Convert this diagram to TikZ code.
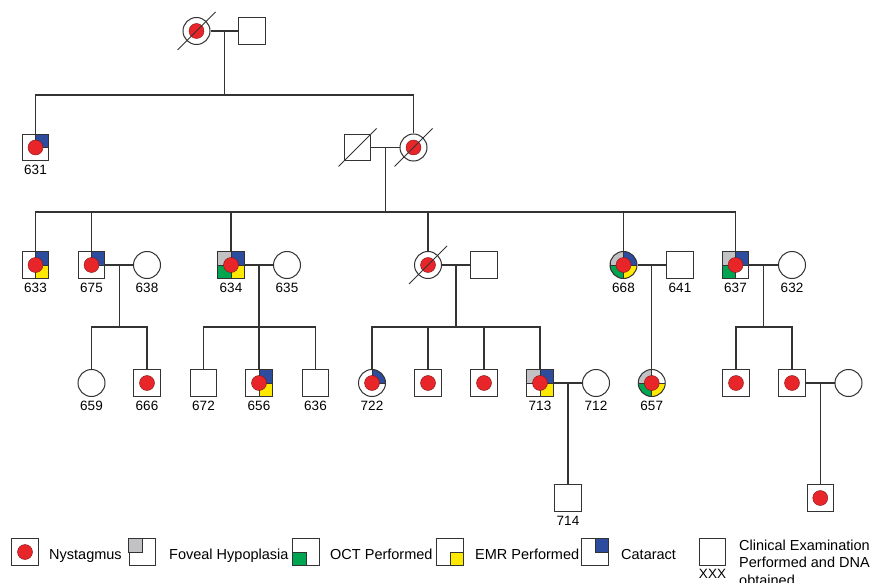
\documentclass[tikz,border=0pt]{standalone}
\usepackage{fontspec}
\setmainfont{Liberation Sans}
\usetikzlibrary{positioning, calc}

\definecolor{ln}{HTML}{333333}
\definecolor{nyst}{HTML}{E8262A}
\definecolor{cat}{HTML}{2D4C9E}
\definecolor{emr}{HTML}{FFE900}
\definecolor{oct}{HTML}{00A551}
\definecolor{fov}{HTML}{C2C2C4}

\begin{document}
\begin{tikzpicture}[x=1pt, y=-1pt, font=\fontsize{13.5}{16}\selectfont,
    male/.style={draw=ln, line width=1pt, fill=white, minimum size=26.5pt, inner sep=0pt},
    female/.style={circle, draw=ln, line width=1pt, fill=white, minimum size=27pt, inner sep=0pt},
    nystdot/.style={fill=nyst, draw=nyst!55!black, line width=0.4pt},
    aff/.style={path picture={\filldraw[nystdot] (path picture bounding box.center) circle[radius=7.5];}},
    quads/.style={path picture={
        \foreach \qc/\qk in {#1}
          \filldraw[fill=\qc, draw=ln, line width=0.7pt] (path picture bounding box.center) rectangle (path picture bounding box.\qk);
        \filldraw[nystdot] (path picture bounding box.center) circle[radius=7.5];}},
    lab/.style={inner sep=2pt},
    rel/.style={draw=ln, line width=1.25pt},
    deadline/.style={draw=ln, line width=0.9pt},
    legtxt/.style={anchor=base west, inner sep=0pt, font=\fontsize{14.5}{17}\selectfont}]

    \useasboundingbox (0,0) rectangle (871,583);

    % generation I
    \node[female, aff] (i1) at (196.5,31) {};
    \node[male] (i2) at (252,31) {};
    \draw[deadline] ($(i1)+(-19,19)$) -- ($(i1)+(19,-19)$);
    \draw[rel] (i1) -- (i2);
    \coordinate (m1) at ($(i1)!0.5!(i2)$);
    \coordinate (s1) at ($(m1)+(0,64)$);

    % generation II
    \node[male, quads={cat/north east}] (p631) at (35.5,147.5) {};
    \node[male] (ii2) at (357.5,147.5) {};
    \node[female, aff] (ii3) at (413.5,147.5) {};
    \draw[deadline] ($(ii2)+(-19,19)$) -- ($(ii2)+(19,-19)$);
    \draw[deadline] ($(ii3)+(-19,19)$) -- ($(ii3)+(19,-19)$);

    \draw[rel] (m1) -- (s1);
    \draw[rel] (p631.north) |- (s1) -| (ii3.north);
    \draw[rel] (ii2) -- (ii3);
    \coordinate (m2) at ($(ii2)!0.5!(ii3)$);
    \coordinate (s2) at ($(m2)+(0,64.5)$);

    % generation III
    \node[male, quads={cat/north east, emr/south east}] (p633) at (35.5,265) {};
    \node[male, quads={cat/north east}] (p675) at (91.5,265) {};
    \node[female] (p638) at (147,265) {};
    \node[male, quads={fov/north west, cat/north east, oct/south west, emr/south east}] (p634) at (231,265) {};
    \node[female] (p635) at (287,265) {};
    \node[female, aff] (iii1) at (428,265) {};
    \node[male] (iii2) at (484,265) {};
    \node[female, quads={fov/north west, cat/north east, oct/south west, emr/south east}] (p668) at (623.5,265) {};
    \node[male] (p641) at (680,265) {};
    \node[male, quads={fov/north west, cat/north east, oct/south west}] (p637) at (735.5,265) {};
    \node[female] (p632) at (792,265) {};
    \draw[deadline] ($(iii1)+(-19,19)$) -- ($(iii1)+(19,-19)$);

    \draw[rel] (m2) -- (s2);
    \draw[rel] (p633.north) |- (s2) -| (p637.north);
    \foreach \n in {p675,p634,iii1,p668}
      \draw[rel] (\n.north) -- (\n |- s2);

    \foreach \a/\b/\m in {p675/p638/m3, p634/p635/m4, iii1/iii2/m5, p668/p641/m6, p637/p632/m7} {
      \draw[rel] (\a) -- (\b);
      \coordinate (\m) at ($(\a)!0.5!(\b)$);
    }
    \foreach \m/\s in {m3/s3, m4/s4, m5/s5, m7/s7}
      \coordinate (\s) at ($(\m)+(0,62)$);

    % generation IV
    \node[female] (p659) at (91.5,383) {};
    \node[male, aff] (p666) at (147,383) {};
    \node[male] (p672) at (203.5,383) {};
    \node[male, quads={cat/north east, emr/south east}] (p656) at (259,383) {};
    \node[male] (p636) at (315.5,383) {};
    \node[female, quads={cat/north east}] (p722) at (372,383) {};
    \node[male, aff] (iv1) at (428,383) {};
    \node[male, aff] (iv2) at (484,383) {};
    \node[male, quads={fov/north west, cat/north east, emr/south east}] (p713) at (540,383) {};
    \node[female] (p712) at (596,383) {};
    \node[female, quads={fov/north west, oct/south west, emr/south east}] (p657) at (651.75,383) {};
    \node[male, aff] (iv3) at (736,383) {};
    \node[male, aff] (iv4) at (792,383) {};
    \node[female] (iv5) at (848.5,383) {};

    \draw[rel] (m3) -- (s3);
    \draw[rel] (p659.north) |- (s3) -| (p666.north);
    \draw[rel] (m4) -- (s4);
    \draw[rel] (p672.north) |- (s4) -| (p636.north);
    \draw[rel] (p656.north) -- (p656 |- s4);
    \draw[rel] (m5) -- (s5);
    \draw[rel] (p722.north) |- (s5) -| (p713.north);
    \draw[rel] (iv1.north) -- (iv1 |- s5);
    \draw[rel] (iv2.north) -- (iv2 |- s5);
    \draw[rel] (m6) -- (m6 |- p657.north);
    \draw[rel] (m7) -- (s7);
    \draw[rel] (iv3.north) |- (s7) -| (iv4.north);

    \draw[rel] (p713) -- (p712);
    \coordinate (m8) at ($(p713)!0.5!(p712)$);
    \draw[rel] (iv4) -- (iv5);
    \coordinate (m9) at ($(iv4)!0.5!(iv5)$);

    % generation V
    \node[male] (p714) at (568,498) {};
    \node[male, aff] (v1) at (820.25,498) {};
    \draw[rel] (m8) -- (m8 |- p714.north);
    \draw[rel] (m9) -- (m9 |- v1.north);

    \node[lab, below=2pt of p631] (t631) {631};
    \foreach \n in {633,675,638,634,635,668,641,637,632,659,666,672,656,636,722,713,712,657,714}
      \node[lab, below=2pt of p\n] (t\n) {\n};

    % legend
    \node[male, aff] (k1) at (25,552) {};
    \node[legtxt] (kt1) at (49,559) {Nystagmus};
    \node[male] (k2) at (142.5,552) {};
    \filldraw[fill=fov, draw=ln, line width=0.7pt] (k2.center) rectangle (k2.north west);
    \node[legtxt] (kt2) at (169,559) {Foveal Hypoplasia};
    \node[male] (k3) at (306,552) {};
    \filldraw[fill=oct, draw=ln, line width=0.7pt] (k3.center) rectangle (k3.south west);
    \node[legtxt] (kt3) at (330,559) {OCT Performed};
    \node[male] (k4) at (450,552) {};
    \filldraw[fill=emr, draw=ln, line width=0.7pt] (k4.center) rectangle (k4.south east);
    \node[legtxt] (kt4) at (475,559) {EMR Performed};
    \node[male] (k5) at (595,552) {};
    \filldraw[fill=cat, draw=ln, line width=0.7pt] (k5.center) rectangle (k5.north east);
    \node[legtxt] (kt5) at (621,559) {Cataract};
    \node[male] (k6) at (712.5,552) {};
    \node[lab, below=1pt of k6] (kx) {XXX};
    \node[legtxt] (kt6a) at (739,550) {Clinical Examination};
    \node[legtxt] (kt6b) at (739,567) {Performed and DNA};
    \node[legtxt] (kt6c) at (739,585) {obtained};
  \end{tikzpicture}
\end{document}
